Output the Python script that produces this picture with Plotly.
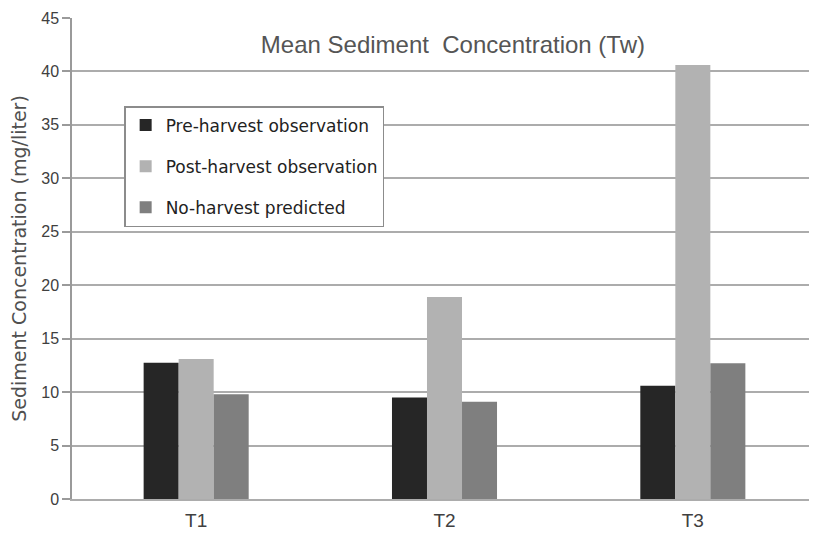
import plotly.graph_objects as go

categories = ["T1", "T2", "T3"]
series_names = ["Pre-harvest observation", "Post-harvest observation", "No-harvest predicted"]
pre_harvest = [12.75, 9.5, 10.6]
post_harvest = [13.1, 18.9, 40.6]
no_harvest = [9.8, 9.1, 12.7]
y_ticks = [0, 5, 10, 15, 20, 25, 30, 35, 40, 45]

colors = ["#262626", "#b2b2b2", "#7f7f7f"]
values = [pre_harvest, post_harvest, no_harvest]

fig = go.Figure()
for i, (name, vals) in enumerate(zip(series_names, values)):
    fig.add_trace(go.Bar(
        x=categories, y=vals, name=name,
        marker=dict(color=colors[i], line=dict(width=0)),
        legendgroup=f"g{i}",
    ))

font_family = "Liberation Sans, Arial, sans-serif"

# page body adds an 8px offset, so the figure is sized 809x527
fig.update_layout(
    width=809, height=527,
    margin=dict(l=64, r=0, t=10, b=36),
    paper_bgcolor="white", plot_bgcolor="white",
    barmode="group", bargap=0.577, bargroupgap=0,
    font=dict(family=font_family, color="#404040"),
    title=dict(
        text="Mean Sediment  Concentration (Tw)",
        x=0.55, xanchor="center", y=0.93, yanchor="middle",
        font=dict(size=24, color="#555555", family=font_family),
    ),
    legend=dict(
        x=0.07, y=0.817, xanchor="left", yanchor="top",
        bgcolor="white", bordercolor="#8c8c8c", borderwidth=1.5,
        font=dict(size=17, color="#222222", family="DejaVu Sans, sans-serif"),
        traceorder="grouped", tracegroupgap=16,
        itemwidth=30,
    ),
    showlegend=True,
)

fig.update_yaxes(
    range=[0, 45], tickvals=y_ticks,
    showgrid=True, gridcolor="#acacac", gridwidth=2,
    showline=True, linecolor="#9a9a9a", linewidth=1.5,
    ticks="outside", ticklen=8, tickcolor="#9a9a9a", tickwidth=1.5,
    tickfont=dict(size=16, color="#404040"),
    zeroline=False,
    title=dict(text="Sediment Concentration (mg/liter)",
               font=dict(size=19, color="#505050", family="DejaVu Sans, sans-serif"),
               standoff=10),
)
fig.update_xaxes(
    showline=True, linecolor="#acacac", linewidth=2,
    ticks="", tickfont=dict(size=19, color="#404040"),
    ticklabelstandoff=3,
    showgrid=False,
)

fig.write_html("out.html")
